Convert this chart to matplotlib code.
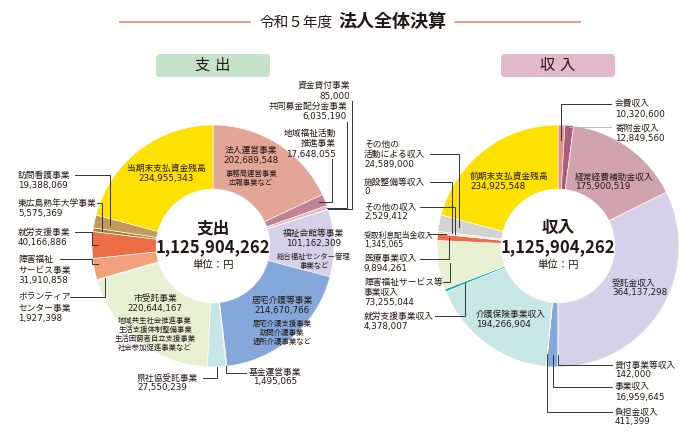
import numpy as np
import matplotlib.pyplot as plt
from matplotlib.patches import FancyBboxPatch

plt.rcParams['font.family'] = ['DejaVu Sans', 'Noto Sans CJK JP']

W, H = 700, 434
R = 121
INK = '#231815'
LINE = '#333333'
TOTAL = '1,125,904,262'

# 支出 (clockwise from 12 o'clock)
out_names = ['法人運営事業', '地域福祉活動推進事業', '共同募金配分金事業', '資金貸付事業',
             '福祉会館等事業', '居宅介護等事業', '基金運営事業', '県社協受託事業',
             '市受託事業', 'ボランティアセンター事業', '障害福祉サービス事業', '就労支援事業',
             '東広島熟年大学事業', '訪問看護事業', '当期末支払資金残高']
out_values = [202689548, 17648055, 6035190, 85000,
              101162309, 214670766, 1495065, 27550239,
              220644167, 1927398, 31910858, 40166886,
              5575369, 19388069, 234955343]
out_colors = ['#e3a598', '#c08393', '#eab7bf', '#eab7bf',
              '#d5d1e8', '#84a8da', '#84a8da', '#c8e6e4',
              '#e8f0d2', '#e8f0d2', '#f2a17c', '#ee6d49',
              '#9b8a30', '#c49a5c', '#ffe100']

# 収入 (clockwise from 12 o'clock)
in_names = ['会費収入', '寄附金収入', '経常経費補助金収入', '受託金収入',
            '貸付事業等収入', '事業収入', '負担金収入', '介護保険事業収入',
            '就労支援事業収入', '障害福祉サービス等事業収入', '医療事業収入',
            '受取利息配当金収入', 'その他の収入', '施設整備等収入',
            'その他の活動による収入', '前期末支払資金残高']
in_values = [10320600, 12849560, 175900519, 364137298,
             142000, 16959645, 411399, 194266904,
             4378007, 73255044, 9894261,
             1345065, 2529412, 0,
             24589000, 234925548]
in_colors = ['#e79484', '#ad5b7a', '#d0a3ae', '#d5d1e8',
             '#84a8da', '#84a8da', '#84a8da', '#c8e6e3',
             '#13acaf', '#e8f0d2', '#ee6d49',
             '#d9a86a', '#f3c99c', '#d3d3d3',
             '#d3d3d3', '#ffe100']

fig = plt.figure(figsize=(7, 4.34), dpi=100)


def donut(cx, cy, values, colors):
    ax = fig.add_axes([(cx - R) / W, (H - cy - R) / H, 2 * R / W, 2 * R / H])
    ax.pie(values, colors=colors, startangle=90, counterclock=False, radius=1,
           wedgeprops=dict(width=0.53, edgecolor='white', linewidth=0.45))
    ax.set_xlim(-1, 1)
    ax.set_ylim(-1, 1)
    return ax


donut(213, 246, out_values, out_colors)
donut(558, 246, in_values, in_colors)

# overlay in pixel coordinates for text and leader lines
lay = fig.add_axes([0, 0, 1, 1])
lay.set_xlim(0, W)
lay.set_ylim(H, 0)
lay.axis('off')


def anchor(cx, cy, values, i, r, pos=0.5):
    cum = np.concatenate([[0], np.cumsum(values)])
    th = np.radians(360 * (cum[i] + pos * values[i]) / cum[-1])
    return cx + r * R * np.sin(th), cy - r * R * np.cos(th)


def label(x, y, lines, ha='left', dy=10.5, size=6.3, small=None, sdy=9):
    for k, s in enumerate(lines):
        lay.text(x, y + k * dy, s, ha=ha, va='center', fontsize=size, color=INK)
    if small:
        y0 = y + (len(lines) - 1) * dy + dy * 1.2
        for k, s in enumerate(small):
            lay.text(x, y0 + k * sdy, s, ha=ha, va='center', fontsize=5.3, color=INK)


def leader(pts, color=LINE):
    xs, ys = zip(*pts)
    lay.plot(xs, ys, color=color, lw=0.7, solid_joinstyle='miter')


# title
lay.plot([120, 250], [22, 22], color='#e8877c', lw=1.2)
lay.plot([455, 580], [22, 22], color='#e8877c', lw=1.2)
lay.text(333, 22, '令和５年度', ha='right', va='center', fontsize=10.5, color=INK)
lay.text(338, 22, '法人全体決算', ha='left', va='center', fontsize=13, color=INK,
         fontweight='bold')

# section headers
for cx, col, s in [(213, '#c5e3c8', '支 出'), (558, '#e2b8cb', '収 入')]:
    lay.add_patch(FancyBboxPatch((cx - 57, 54), 114, 23, boxstyle='round,pad=0,rounding_size=4',
                                 fc=col, ec='none'))
    lay.text(cx, 65.5, s, ha='center', va='center', fontsize=11, color=INK)

# centre texts
for cx, s in [(213, '支出'), (558, '収入')]:
    lay.text(cx, 228, s, ha='center', va='center', fontsize=12, fontweight='bold', color=INK)
    lay.text(cx, 247, TOTAL, ha='center', va='center', fontsize=12, fontweight='bold',
             color=INK, family='Noto Sans CJK JP')
    lay.text(cx, 265, '単位：円', ha='center', va='center', fontsize=7.5, color=INK)


def amt(v):
    return f'{v:,}'


# ---- 支出 labels ----
ov = out_values
cxL, cyL = 213, 246
label(251, 150, ['法人運営事業', amt(ov[0])], ha='center', small=['事務局運営事業', '広報事業など'])
label(166, 168, ['当期末支払資金残高', amt(ov[14])], ha='center')
label(314, 233, ['福祉会館等事業', amt(ov[4])], ha='center', small=['総合福祉センター管理', '事業など'])
label(282, 300, ['居宅介護等事業', amt(ov[5])], ha='center',
      small=['居宅介護支援事業', '訪問介護事業', '通所介護事業など'])
label(155, 298, ['市受託事業', amt(ov[8])], ha='center', dy=10,
      small=['地域共生社会推進事業', '生活支援体制整備事業', '生活困窮者自立支援事業', '社会参加促進事業など'])

label(350, 85, ['資金貸付事業', amt(ov[3])], ha='right', dy=11)
ax_, ay_ = anchor(cxL, cyL, ov, 3, 1.0)
leader([(352, 101), (352, ay_), (ax_, ay_)])

label(347, 106, ['共同募金配分金事業', amt(ov[2])], ha='right', dy=11)
ax_, ay_ = anchor(cxL, cyL, ov, 2, 0.99)
leader([(347, 122), (347, ay_), (ax_, ay_)])

label(336, 133, ['地域福祉活動', '推進事業', amt(ov[1])], ha='right', dy=10.5)
ax_, ay_ = anchor(cxL, cyL, ov, 1, 0.95)
leader([(332, 159), (332, ay_), (ax_, ay_)])

label(18, 175, ['訪問看護事業', amt(ov[13])])
ax_, ay_ = anchor(cxL, cyL, ov, 13, 0.87)
leader([(75, 175), (ax_, 175), (ax_, ay_)])

label(18, 203, ['東広島熟年大学事業', amt(ov[12])])
ax_, ay_ = anchor(cxL, cyL, ov, 12, 0.925)
leader([(97, 203), (ax_, 203), (ax_, ay_)])

label(18, 232, ['就労支援事業', amt(ov[11])])
ax_, ay_ = anchor(cxL, cyL, ov, 11, 0.95)
leader([(75, 232), (92, 232), (92, ay_), (ax_, ay_)])

label(18, 259, ['障害福祉', 'サービス事業', amt(ov[10])], dy=11)
ax_, ay_ = anchor(cxL, cyL, ov, 10, 0.96, 0.7)
leader([(60, 259), (92, 259), (92, ay_), (ax_, ay_)])

label(18, 297, ['ボランティア', 'センター事業', amt(ov[9])], dy=11)
ax_, ay_ = anchor(cxL, cyL, ov, 9, 0.93)
leader([(70, 297), (ax_, 297), (ax_, ay_)])

label(137, 378, ['県社協受託事業', amt(ov[7])], dy=9.5)
ax_, ay_ = anchor(cxL, cyL, ov, 7, 1.0)
leader([(203, 378), (ax_, 378), (ax_, ay_)])

label(275, 372, ['基金運営事業', amt(ov[6])], ha='center', dy=9.5)
ax_, ay_ = anchor(cxL, cyL, ov, 6, 1.0)
leader([(ax_, ay_), (ax_, 373), (246, 373)])

# ---- 収入 labels ----
iv = in_values
cxR, cyR = 558, 246
label(575, 177, ['経常経費補助金収入', amt(iv[2])], dy=9.5)
label(612, 283, ['受託金収入', amt(iv[3])], dy=9.5)
label(470, 176, ['前期末支払資金残高', amt(iv[15])], dy=10)
label(476, 314, ['介護保険事業収入', amt(iv[7])], dy=10)

label(615, 103, ['会費収入', amt(iv[0])], dy=11)
ax_, ay_ = anchor(cxR, cyR, iv, 0, 0.88)
leader([(611, 104), (ax_, 104), (ax_, ay_)])

label(615, 128, ['寄附金収入', amt(iv[1])], dy=10.5)
ax_, ay_ = anchor(cxR, cyR, iv, 1, 0.99)
leader([(611, ay_), (ax_, ay_)], color='#bbbbbb')

label(615, 365, ['貸付事業等収入', amt(iv[4])], dy=9.5)
ax_, ay_ = anchor(cxR, cyR, iv, 4, 0.9)
leader([(612, 365), (ax_, 365), (ax_, ay_)])

label(615, 387, ['事業収入', amt(iv[5])], dy=10.5)
ax_, ay_ = anchor(cxR, cyR, iv, 5, 0.9)
leader([(612, 387), (ax_, 387), (ax_, ay_)])

label(615, 412, ['負担金収入', amt(iv[6])], dy=9.5)
ax_, ay_ = anchor(cxR, cyR, iv, 6, 0.9)
leader([(612, 412), (ax_, 412), (ax_, ay_)])

label(364, 144, ['その他の', '活動による収入', amt(iv[14])], dy=10.5)
ax_, ay_ = anchor(cxR, cyR, iv, 14, 0.83)
leader([(430, 154), (ax_, 154), (ax_, ay_)])

label(364, 182, ['施設整備等収入', amt(iv[13])], dy=10)
ax_, ay_ = anchor(cxR, cyR, iv, 13, 0.88)
leader([(430, 182), (ax_, 182), (ax_, ay_)])

label(364, 207, ['その他の収入', amt(iv[12])], dy=10)
ax_, ay_ = anchor(cxR, cyR, iv, 12, 0.86)
leader([(420, 207), (ax_, 207), (ax_, ay_)])

label(364, 235, ['受取利息配当金収入', amt(iv[11])], dy=10, size=5.6)
ax_, ay_ = anchor(cxR, cyR, iv, 11, 0.93)
leader([(428, ay_), (ax_, ay_)])

label(364, 259, ['医療事業収入', amt(iv[10])], dy=10)
ax_, ay_ = anchor(cxR, cyR, iv, 10, 0.9)
leader([(420, 259), (ax_, 259), (ax_, ay_)])

label(364, 282, ['障害福祉サービス等', '事業収入', amt(iv[9])], dy=10)
ax_, ay_ = anchor(cxR, cyR, iv, 9, 0.9)
leader([(443, 282), (ax_, 282), (ax_, ay_)])

label(364, 316, ['就労支援事業収入', amt(iv[8])], dy=10)
ax_, ay_ = anchor(cxR, cyR, iv, 8, 0.83)
leader([(435, 316), (ax_, 316), (ax_, ay_)])

fig.savefig('out.png', dpi=100)
